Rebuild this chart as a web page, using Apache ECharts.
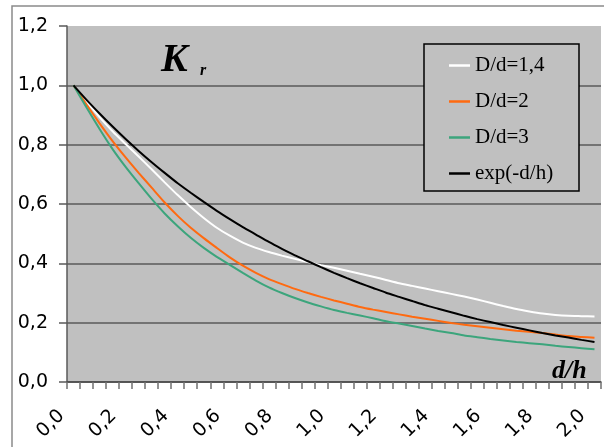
<!DOCTYPE html>
<html>
<head>
<meta charset="utf-8">
<script src="https://cdn.jsdelivr.net/npm/echarts@6/dist/echarts.min.js"></script>
<style>html,body{margin:0;padding:0;background:#fff}#c{width:604px;height:447px}</style>
</head>
<body>
<div id="c"></div>
<script>
const categories = ['0,0','0,05','0,1','0,15','0,2','0,25','0,3','0,35','0,4','0,45','0,5','0,55','0,6','0,65','0,7','0,75','0,8','0,85','0,9','0,95','1,0','1,05','1,1','1,15','1,2','1,25','1,3','1,35','1,4','1,45','1,5','1,55','1,6','1,65','1,7','1,75','1,8','1,85','1,9','1,95','2,0'];
const seriesNames = ['D/d=1,4','D/d=2','D/d=3','exp(-d/h)'];
const dd14 = [1.000,0.945,0.893,0.845,0.802,0.760,0.717,0.673,0.630,0.590,0.553,0.520,0.493,0.470,0.452,0.438,0.426,0.415,0.404,0.394,0.385,0.375,0.365,0.355,0.344,0.333,0.324,0.315,0.306,0.297,0.288,0.278,0.267,0.256,0.246,0.238,0.231,0.226,0.223,0.222,0.221];
const dd2 = [1.000,0.935,0.872,0.812,0.757,0.705,0.655,0.605,0.560,0.520,0.485,0.452,0.420,0.392,0.368,0.347,0.330,0.314,0.300,0.287,0.275,0.264,0.253,0.244,0.236,0.228,0.220,0.213,0.206,0.199,0.193,0.188,0.183,0.178,0.173,0.169,0.165,0.160,0.155,0.152,0.149];
const dd3 = [1.000,0.925,0.853,0.785,0.725,0.670,0.617,0.568,0.525,0.486,0.452,0.422,0.395,0.368,0.342,0.319,0.300,0.283,0.268,0.255,0.243,0.233,0.224,0.215,0.205,0.197,0.189,0.180,0.172,0.165,0.157,0.151,0.145,0.140,0.135,0.131,0.127,0.122,0.118,0.114,0.110];
const expdh = [1.000,0.951,0.905,0.861,0.819,0.779,0.741,0.705,0.670,0.638,0.607,0.577,0.549,0.522,0.497,0.472,0.449,0.427,0.407,0.387,0.368,0.350,0.333,0.317,0.301,0.287,0.273,0.259,0.247,0.235,0.223,0.212,0.202,0.192,0.183,0.174,0.165,0.157,0.150,0.142,0.135];
const colors = ['#ffffff','#ff6a10','#3ca57c','#000000'];

const chart = echarts.init(document.getElementById('c'), null, {renderer:'canvas'});
const allData = [dd14, dd2, dd3, expdh];
chart.setOption({
  animation: false,
  backgroundColor: '#ffffff',
  grid: {left: 67, top: 26, width: 534, height: 356, show: true, backgroundColor: '#c0c0c0', borderWidth: 0},
  xAxis: {
    type: 'category', data: categories, boundaryGap: true,
    axisLine: {lineStyle: {color: '#4a4a4a', width: 1.5}},
    axisTick: {show: true, interval: 0, length: 7, lineStyle: {color: '#707070', width: 1.5}},
    axisLabel: {interval: 3, rotate: 45, margin: 19, padding: [0, 17, 0, 0], fontFamily: 'DejaVu Sans', fontSize: 19, color: '#000'},
    splitLine: {show: false}
  },
  yAxis: {
    type: 'value', min: 0, max: 1.2, interval: 0.2,
    axisLine: {show: true, lineStyle: {color: '#5a5a5a', width: 1.5}},
    axisTick: {show: true, length: 8, lineStyle: {color: '#5a5a5a', width: 1.5}},
    axisLabel: {margin: 19, fontFamily: 'DejaVu Sans', fontSize: 19, color: '#000', formatter: v => v.toFixed(1).replace('.', ',')},
    splitLine: {show: true, showMaxLine: false, lineStyle: {color: '#5a5a5a', width: 1.5}}
  },
  legend: {
    data: seriesNames.map(n => ({name: n, icon: 'rect'})), orient: 'vertical', left: 424, top: 44, z: 6,
    padding: [11, 10, 10, 25], itemWidth: 21, itemHeight: 2.5, itemGap: 15,
    itemStyle: {borderWidth: 0},
    textStyle: {fontFamily: 'Liberation Serif', fontSize: 21, color: '#000'}
  },
  graphic: [
    {type: 'rect', z: 1, silent: true, shape: {x: 12, y: 6, width: 700, height: 600}, style: {fill: 'none', stroke: '#8a8a8a', lineWidth: 1.5}},
    {type: 'rect', z: 5, silent: true, shape: {x: 424, y: 44, width: 155, height: 147}, style: {fill: '#c0c0c0', stroke: '#000', lineWidth: 1.5}},
    {type: 'text', z: 6, left: 161, top: 41, style: {text: 'K', font: 'italic bold 40px "Liberation Serif"', fill: '#000'}},
    {type: 'text', z: 6, left: 200, top: 63, style: {text: 'r', font: 'italic bold 16px "Liberation Serif"', fill: '#000'}},
    {type: 'text', z: 6, left: 552, top: 358, style: {text: 'd/h', font: 'italic bold 26px "Liberation Serif"', fill: '#000'}}
  ],
  series: seriesNames.map((n, k) => ({
    name: n, type: 'line', data: allData[k], symbol: 'none', smooth: 0.2, z: 2,
    lineStyle: {color: colors[k], width: 2}, itemStyle: {color: colors[k]}
  }))
});
</script>
</body>
</html>
